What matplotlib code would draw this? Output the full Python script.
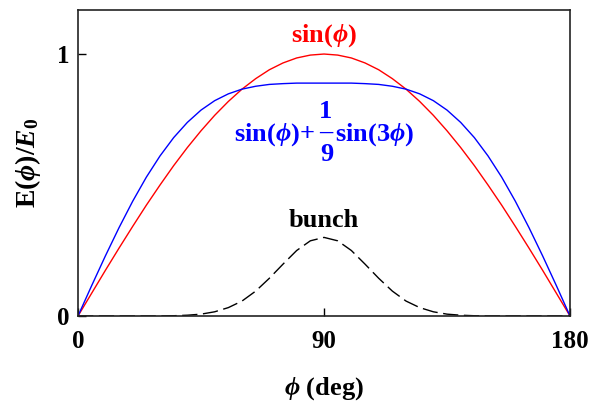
import matplotlib
matplotlib.use("Agg")
import matplotlib.pyplot as plt

plt.rcParams['font.family'] = ['Liberation Serif', 'DejaVu Serif']
plt.rcParams['font.weight'] = 'bold'
plt.rcParams['mathtext.fontset'] = 'custom'
plt.rcParams['mathtext.rm'] = 'Liberation Serif:bold'
plt.rcParams['mathtext.it'] = 'Liberation Serif:bold:italic'
plt.rcParams['mathtext.bf'] = 'Liberation Serif:bold'

# phase in degrees, every 5 deg
phi = [0, 5, 10, 15, 20, 25, 30, 35, 40, 45, 50, 55, 60, 65, 70, 75, 80, 85, 90,
       95, 100, 105, 110, 115, 120, 125, 130, 135, 140, 145, 150, 155, 160, 165, 170, 175, 180]

# sin(phi)
e_red = [0, .087, .174, .259, .342, .423, .5, .574, .643, .707, .766, .819, .866, .906, .940, .966, .985, .996, 1.0,
         .996, .985, .966, .940, .906, .866, .819, .766, .707, .643, .574, .5, .423, .342, .259, .174, .087, 0]

# sin(phi) + sin(3phi)/9
e_blue = [0, .116, .229, .337, .438, .530, .611, .681, .739, .786, .822, .848, .866, .877, .884, .887, .889, .889, .889,
          .889, .889, .887, .884, .877, .866, .848, .822, .786, .739, .681, .611, .530, .438, .337, .229, .116, 0]

# bunch profile
bunch = [0, 0, 0, 0, 0, 0, 0, .001, .003, .007, .016, .032, .057, .095, .144, .198, .250, .287, .300,
         .287, .250, .198, .144, .095, .057, .032, .016, .007, .003, .001, 0, 0, 0, 0, 0, 0, 0]

fig = plt.figure(figsize=(5.91, 4.01), dpi=100)
ax = fig.add_axes([0.132, 0.212, 0.8325, 0.763])

ax.plot(phi, e_red, color='red', lw=1.0)
ax.plot(phi, e_blue, color='blue', lw=1.0)
ax.plot(phi, bunch, color='black', lw=1.0, dashes=(11, 4))

ax.set_xlim(0, 180)
ax.set_ylim(0, 1.168)
ax.set_xticks([0, 90, 180])
ax.set_yticks([0, 1])
ax.tick_params(direction='in', length=6, width=1, labelsize=18)
ax.tick_params(axis='x', pad=10)
ax.tick_params(axis='y', pad=6)
for lab in ax.get_xticklabels() + ax.get_yticklabels():
    lab.set_fontweight('bold')
for s in ax.spines.values():
    s.set_linewidth(1.2)
    s.set_color('#222222')

ax.set_xlabel(r'$\phi$ (deg)', fontsize=19, fontweight='bold', labelpad=16)
ax.set_ylabel(r'$\mathrm{E}(\phi)/E_0$', fontsize=20, fontweight='bold', labelpad=10)

fs = 19
ax.text(90, 1.07, r'sin($\phi$)', color='red', fontsize=fs, fontweight='bold', ha='center', va='center')

# blue label with stacked 1/9 fraction
ax.text(86.5, 0.691, r'sin($\phi$)+', color='blue', fontsize=fs, fontweight='bold', ha='right', va='center')
ax.text(90.7, 0.782, '1', color='blue', fontsize=fs, fontweight='bold', ha='center', va='center')
ax.text(90.6, 0.700, '\u2013', color='blue', fontsize=fs, fontweight='bold', ha='center', va='center')
ax.text(91.0, 0.615, '9', color='blue', fontsize=fs, fontweight='bold', ha='center', va='center')
ax.text(94.0, 0.691, r'sin(3$\phi$)', color='blue', fontsize=fs, fontweight='bold', ha='left', va='center')

ax.text(90, 0.366, 'bunch', color='black', fontsize=fs, fontweight='bold', ha='center', va='center')

fig.savefig('out.png', dpi=100)
